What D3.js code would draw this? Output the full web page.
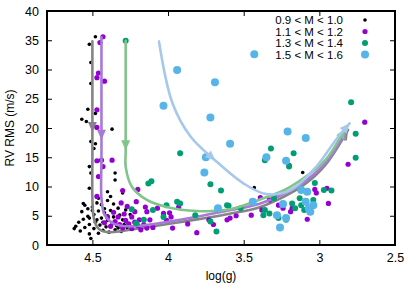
<!DOCTYPE html>
<html>
<head>
<meta charset="utf-8">
<script src="https://cdn.jsdelivr.net/npm/d3@7"></script>
<style>
  body { margin: 0; background: #fff; }
  text { font-family: "Liberation Sans", Arial, sans-serif; font-size: 12px; fill: #000; }
</style>
</head>
<body>
<svg id="chart"></svg>
<script>
// ---- data (log g, RV RMS in m/s) ----
const xTicks = [4.5, 4, 3.5, 3, 2.5];
const yTicks = [0, 5, 10, 15, 20, 25, 30, 35, 40];
const seriesNames = ["0.9 < M < 1.0", "1.1 < M < 1.2", "1.3 < M < 1.4", "1.5 < M < 1.6"];

const ptsM10 = [
  [4.48,35.6],[4.52,34.3],[4.51,31.2],[4.51,27.6],[4.53,23.2],[4.48,22.5],[4.57,21.5],[4.54,21.1],
  [4.37,19.8],[4.51,17.7],[4.48,17.3],[4.49,16.5],[4.52,13.4],[4.51,12.3],[4.35,12.3],[4.35,11.1],
  [4.52,9.7],[4.40,9.1],[4.46,8.0],[4.56,7.1],[4.53,6.2],[4.57,5.7],[4.52,4.6],[4.61,3.2],
  [4.58,2.4],[4.52,1.9],[4.51,1.1],
  [4.55,6.8],[4.50,6.5],[4.47,7.2],[4.44,6.9],[4.40,7.6],[4.36,7.0],[4.33,6.3],[4.46,5.8],
  [4.42,5.5],[4.38,5.9],[4.49,5.2],[4.53,4.9],[4.56,4.4],[4.44,4.6],[4.40,4.2],[4.36,4.8],
  [4.32,5.1],[4.30,4.3],[4.48,3.9],[4.52,3.5],[4.45,3.4],[4.41,3.1],[4.37,3.6],[4.34,3.3],
  [4.29,3.5],[4.55,3.0],[4.49,2.8],[4.43,2.5],[4.39,2.2],[4.46,2.0],[4.35,2.6],[4.31,2.3],
  [4.59,3.9],[4.62,2.8],[4.47,4.3],[4.42,6.2],[4.38,8.3],[4.30,8.9],[4.28,6.0],[4.25,5.2],
  [4.27,3.0],[4.50,5.9],[4.43,3.9],[4.33,2.9],[4.40,5.0],
  [3.43,9.8],[3.11,12.4]
];
const ptsM12 = [
  [4.43,35.6],[4.45,34.6],[4.46,29.4],[4.47,28.6],[4.42,28.0],[4.47,23.1],[4.47,20.1],[4.47,14.4],
  [4.44,14.5],[4.37,14.5],[4.43,13.4],[4.46,11.7],[4.47,8.3],[4.30,9.3],[4.20,9.5],[4.21,7.4],
  [4.15,6.5],[4.22,5.7],[4.14,5.7],[4.07,6.3],[4.03,5.4],[3.99,5.5],[4.24,4.8],[4.19,4.3],
  [4.12,4.3],[4.01,4.2],[3.97,2.9],[4.10,3.0],[3.81,2.1],[3.93,6.5],[3.98,4.8],[3.73,4.3],
  [3.61,4.3],[3.39,8.1],[3.28,8.5],[3.20,13.6],[3.27,6.8],[3.19,5.7],[3.18,6.3],[3.08,4.4],
  [3.03,9.5],[3.02,8.9],[3.45,5.1],[3.59,4.6],[3.38,6.0],[3.24,6.3],[3.33,7.7],[2.70,21.0],
  [2.81,13.8],[2.94,7.1],[2.95,9.7],
  [4.42,3.8],[4.38,3.2],[4.35,4.0],[4.32,3.5],[4.30,2.9],[4.28,4.2],[4.26,3.6],[4.24,2.8],
  [4.22,3.9],[4.20,3.3],[4.18,2.6],[4.33,4.8],[4.29,5.3],[4.36,5.6],[4.40,4.8],[4.27,6.6],
  [4.31,7.2],[4.16,3.5],[4.14,2.9],[3.87,3.6],[3.70,3.5],[3.55,5.0]
];
const ptsM14 = [
  [4.28,34.9],[4.24,6.1],[3.92,15.7],[4.13,10.5],[4.11,10.9],[3.72,10.4],[3.65,9.3],[4.16,4.3],
  [4.10,6.0],[4.01,6.8],[3.94,7.4],[3.92,7.1],[3.82,5.1],[3.72,4.0],[3.68,2.3],[3.61,6.8],
  [4.03,4.8],[4.21,3.7],[3.32,16.5],[3.36,14.5],[2.79,24.4],[2.76,19.0],[2.76,14.9],[3.03,10.6],
  [2.97,9.4],[2.92,9.3],[3.04,7.7],[3.17,15.7],[3.20,13.4],[3.60,6.7],[3.18,7.1],[3.16,6.3],
  [3.12,6.8],[3.36,6.0],[3.37,5.1],[3.33,5.4],[3.27,4.6],[3.22,4.3],[3.52,6.3],[3.13,8.0],
  [3.10,6.0],[3.30,8.0]
];
const ptsM16 = [
  [3.43,32.6],[3.94,29.9],[3.69,27.8],[4.03,23.8],[3.72,21.8],[3.21,19.4],[3.09,18.3],[3.59,17.3],
  [3.75,15.0],[3.76,12.4],[3.35,15.0],[3.22,14.4],[3.67,6.3],[3.44,7.4],[3.24,7.0],[3.12,9.4],
  [3.08,9.1],[3.09,7.4],[3.07,6.3],[3.06,5.7],[3.28,5.1],[3.22,4.6],[3.26,3.0],[3.04,6.8]
];

// evolutionary tracks and where their middle arrow heads sit
const trackM10 = [[4.50,34.8],[4.50,25],[4.50,15],[4.50,8],[4.49,4.5],[4.46,2.8],[4.40,2.2],[4.30,2.4],
  [4.15,3.0],[3.9,4.0],[3.6,5.3],[3.4,6.4],[3.23,8.3],[3.09,10.5],[2.96,13.7],[2.81,19.7]];
const trackM12 = [[4.44,35.5],[4.44,25],[4.44,15],[4.44,8],[4.42,5.2],[4.37,3.8],[4.28,3.2],[4.15,3.4],
  [3.9,4.4],[3.6,5.9],[3.4,7.0],[3.23,8.8],[3.09,11],[2.96,14],[2.82,19.6]];
const trackM14 = [[4.28,34.9],[4.28,25],[4.28,16],[4.28,13.4],[4.24,10],[4.14,7.7],[4.01,6.5],[3.81,5.8],
  [3.59,6.1],[3.40,7.7],[3.23,9.4],[3.09,11.7],[2.96,14.5],[2.83,19.9]];
const trackM16 = [[4.06,34.8],[3.97,24.2],[3.85,18.5],[3.69,14.5],[3.50,10.5],[3.35,8.7],[3.19,9.4],
  [3.02,13.4],[2.89,18],[2.80,20.8]];
const midArrows = [[4.50,19.3],[4.44,18.0],[4.28,16.2],[3.69,14.3]];

// ---- styles ----
const W = 415, H = 292;
const margin = {top: 11, right: 20, bottom: 47, left: 47};
const dotColors = ["#000000", "#9400d3", "#009e73", "#56b4e9"];
const dotRadius = [1.8, 2.6, 3.0, 4.0];
const trackColors = ["#858585", "#a77ad6", "#80c48a", "#a6c8ec"];

const svg = d3.select("#chart").attr("width", W).attr("height", H);
const iw = W - margin.left - margin.right;
const ih = H - margin.top - margin.bottom;

const x = d3.scaleLinear().domain([4.8, 2.5]).range([0, iw]);
const y = d3.scaleLinear().domain([0, 40]).range([ih, 0]);

const g = svg.append("g").attr("transform", `translate(${margin.left},${margin.top})`);

// axes, gnuplot style: inward ticks on all four sides
const tk = 5;
g.append("g").attr("transform", `translate(0,${ih})`)
  .call(d3.axisBottom(x).tickValues(xTicks).tickSize(-tk).tickPadding(8).tickFormat(d3.format("")))
  .call(a => a.select(".domain").remove());
g.append("g")
  .call(d3.axisTop(x).tickValues(xTicks).tickSize(-tk).tickFormat(""))
  .call(a => a.select(".domain").remove());
g.append("g")
  .call(d3.axisLeft(y).tickValues(yTicks).tickSize(-tk).tickPadding(8))
  .call(a => a.select(".domain").remove());
g.append("g").attr("transform", `translate(${iw},0)`)
  .call(d3.axisRight(y).tickValues(yTicks).tickSize(-tk).tickFormat(""))
  .call(a => a.select(".domain").remove());
g.selectAll(".tick text").style("font-size", "12.5px").attr("font-family", null);

const line = d3.line().x(d => x(d[0])).y(d => y(d[1])).curve(d3.curveCatmullRom.alpha(0.5));

function arrowHead(p, ang, color) {
  const L = 10, hw = 4.5;
  const c = Math.cos(ang), s = Math.sin(ang);
  const pts = [[p.x, p.y],
    [p.x - L * c - hw * s, p.y - L * s + hw * c],
    [p.x - L * c + hw * s, p.y - L * s - hw * c]];
  g.append("path").attr("d", "M" + pts.join("L") + "Z").attr("fill", color);
}

function drawTrack(data, color, mid) {
  const path = g.append("path").datum(data)
    .attr("d", line).attr("fill", "none")
    .attr("stroke", color).attr("stroke-width", 2.6).attr("stroke-linecap", "round");
  const node = path.node();
  const len = node.getTotalLength();
  // arrow in the middle: nearest point on the path to the given spot
  const tx = x(mid[0]), ty = y(mid[1]);
  let best = 0, bd = Infinity;
  for (let l = 0; l <= len; l += 0.5) {
    const q = node.getPointAtLength(l);
    const dd = (q.x - tx) ** 2 + (q.y - ty) ** 2;
    if (dd < bd) { bd = dd; best = l; }
  }
  [best, len].forEach(l => {
    const p = node.getPointAtLength(l);
    const p0 = node.getPointAtLength(Math.max(0, l - 3));
    arrowHead(p, Math.atan2(p.y - p0.y, p.x - p0.x), color);
  });
}

const allPts = [ptsM10, ptsM12, ptsM14, ptsM16];
const allTracks = [trackM10, trackM12, trackM14, trackM16];

allPts.forEach((pts, i) => {
  g.append("g").selectAll("circle").data(pts).join("circle")
    .attr("cx", d => x(d[0])).attr("cy", d => y(d[1]))
    .attr("r", dotRadius[i]).attr("fill", dotColors[i]);
  drawTrack(allTracks[i], trackColors[i], midArrows[i]);
});

// frame
g.append("rect").attr("width", iw).attr("height", ih)
  .attr("fill", "none").attr("stroke", "#000").attr("stroke-width", 2);

// legend
const leg = svg.append("g");
seriesNames.forEach((name, i) => {
  const ly = 20 + i * 11.5;
  leg.append("text").attr("x", 343).attr("y", ly).attr("dy", "0.35em")
    .attr("text-anchor", "end").style("font-size", "11.5px").text(name);
  leg.append("circle").attr("cx", 365).attr("cy", ly)
    .attr("r", dotRadius[i]).attr("fill", dotColors[i]);
});

// axis titles
svg.append("text").attr("x", margin.left + iw / 2).attr("y", 280)
  .attr("text-anchor", "middle").text("log(g)");
svg.append("text").attr("transform", `translate(14,${margin.top + ih / 2}) rotate(-90)`)
  .attr("text-anchor", "middle").text("RV RMS (m/s)");
</script>
</body>
</html>
